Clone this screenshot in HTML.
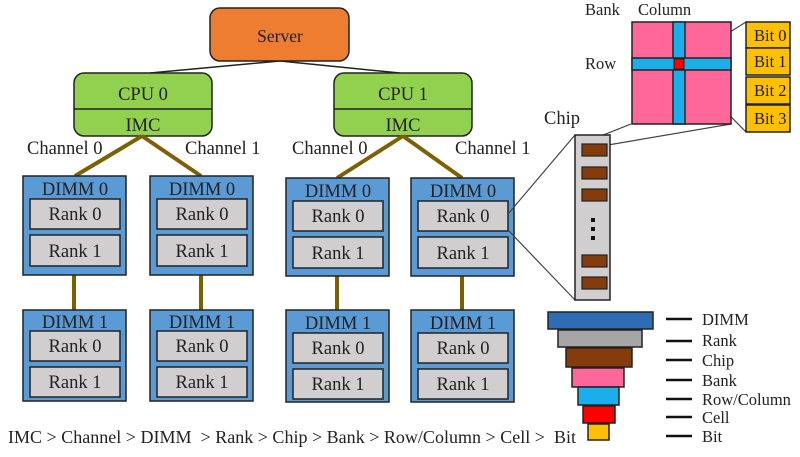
<!DOCTYPE html>
<html><head><style>body{margin:0;background:#fff}svg{display:block}text{font-family:"Liberation Serif",serif;fill:#222}</style></head><body>
<svg width="800" height="457" viewBox="0 0 800 457">
<g stroke="#222" stroke-width="1.5" fill="none">
<line x1="280" y1="61" x2="150" y2="73"/><line x1="280" y1="61" x2="400" y2="73"/>
</g>
<rect x="210" y="8" width="139" height="53" rx="10" fill="#ED7D31" stroke="#222" stroke-width="1.5"/>
<text x="280" y="42" font-size="17.5" text-anchor="middle">Server</text>
<g stroke="#222" stroke-width="1.5">
<rect x="74" y="73" width="138" height="63" rx="10" fill="#92D050"/><line x1="74" y1="109" x2="212" y2="109"/>
<rect x="334" y="73" width="138" height="63" rx="10" fill="#92D050"/><line x1="334" y1="109" x2="472" y2="109"/>
</g>
<g font-size="18.5" text-anchor="middle"><text x="143" y="100">CPU 0</text><text x="143" y="131">IMC</text><text x="403" y="100">CPU 1</text><text x="403" y="131">IMC</text></g>
<g stroke="#7F6000" stroke-width="4">
<line x1="142" y1="136" x2="75" y2="176"/><line x1="142" y1="136" x2="201" y2="176"/>
<line x1="403" y1="136" x2="337" y2="178"/><line x1="403" y1="136" x2="462" y2="178"/>
<line x1="74" y1="275" x2="74" y2="310"/><line x1="201" y1="275" x2="201" y2="310"/>
<line x1="337" y1="276" x2="337" y2="310"/><line x1="462" y1="276" x2="462" y2="310"/>
</g>
<g font-size="18.5"><text x="27" y="154">Channel 0</text><text x="185" y="154">Channel 1</text><text x="292" y="154">Channel 0</text><text x="455" y="154">Channel 1</text></g>
<g stroke="#222" stroke-width="1.5">
<rect x="23" y="176" width="103" height="99" fill="#5B9BD5"/><rect x="30" y="199" width="90" height="30" fill="#D0CECE"/><rect x="30" y="235" width="90" height="31" fill="#D0CECE"/>
<rect x="150" y="176" width="103" height="99" fill="#5B9BD5"/><rect x="157" y="199" width="90" height="30" fill="#D0CECE"/><rect x="157" y="235" width="90" height="31" fill="#D0CECE"/>
<rect x="286" y="178" width="103" height="98" fill="#5B9BD5"/><rect x="293" y="201" width="90" height="30" fill="#D0CECE"/><rect x="293" y="237" width="90" height="31" fill="#D0CECE"/>
<rect x="411" y="178" width="103" height="98" fill="#5B9BD5"/><rect x="418" y="201" width="90" height="30" fill="#D0CECE"/><rect x="418" y="237" width="90" height="31" fill="#D0CECE"/>
<rect x="23" y="310" width="103" height="91" fill="#5B9BD5"/><rect x="30" y="331" width="90" height="30" fill="#D0CECE"/><rect x="30" y="367" width="90" height="30" fill="#D0CECE"/>
<rect x="150" y="310" width="103" height="91" fill="#5B9BD5"/><rect x="157" y="331" width="90" height="30" fill="#D0CECE"/><rect x="157" y="367" width="90" height="30" fill="#D0CECE"/>
<rect x="286" y="310" width="103" height="92" fill="#5B9BD5"/><rect x="293" y="333" width="90" height="30" fill="#D0CECE"/><rect x="293" y="369" width="90" height="30" fill="#D0CECE"/>
<rect x="411" y="310" width="103" height="92" fill="#5B9BD5"/><rect x="418" y="333" width="90" height="30" fill="#D0CECE"/><rect x="418" y="369" width="90" height="30" fill="#D0CECE"/>
</g>
<g font-size="18.5" text-anchor="middle">
<text x="75" y="195">DIMM 0</text><text x="75" y="220">Rank 0</text><text x="75" y="257">Rank 1</text>
<text x="202" y="195">DIMM 0</text><text x="202" y="220">Rank 0</text><text x="202" y="257">Rank 1</text>
<text x="338" y="197">DIMM 0</text><text x="338" y="222">Rank 0</text><text x="338" y="259">Rank 1</text>
<text x="463" y="197">DIMM 0</text><text x="463" y="222">Rank 0</text><text x="463" y="259">Rank 1</text>
<text x="75" y="328">DIMM 1</text><text x="75" y="352">Rank 0</text><text x="75" y="388">Rank 1</text>
<text x="202" y="328">DIMM 1</text><text x="202" y="352">Rank 0</text><text x="202" y="388">Rank 1</text>
<text x="338" y="329">DIMM 1</text><text x="338" y="354">Rank 0</text><text x="338" y="390">Rank 1</text>
<text x="463" y="329">DIMM 1</text><text x="463" y="354">Rank 0</text><text x="463" y="390">Rank 1</text>
</g>
<text x="8" y="443" font-size="18" textLength="568" lengthAdjust="spacing">IMC &gt; Channel &gt; DIMM &#160;&gt; Rank &gt; Chip &gt; Bank &gt; Row/Column &gt; Cell &gt; &#160;Bit</text>
<g stroke="#444" stroke-width="1.2">
<line x1="508" y1="214" x2="575" y2="135"/><line x1="508" y1="230" x2="575" y2="300"/>
<line x1="578" y1="145" x2="631" y2="124"/><line x1="608" y1="145" x2="731" y2="124"/>
<line x1="685" y1="60" x2="746" y2="22"/><line x1="685" y1="70" x2="746" y2="132"/>
</g>
<rect x="575" y="135" width="35" height="165" fill="#D0CECE" stroke="#222" stroke-width="1.5"/>
<g fill="#843C0C" stroke="#222" stroke-width="1.2">
<rect x="582" y="144" width="25" height="12"/><rect x="582" y="167" width="25" height="12"/><rect x="582" y="189" width="25" height="12"/><rect x="582" y="255" width="25" height="12"/><rect x="582" y="277" width="25" height="12"/>
</g>
<g fill="#111"><rect x="591" y="218" width="4" height="4"/><rect x="591" y="227" width="4" height="4"/><rect x="591" y="236" width="4" height="4"/></g>
<g stroke="#222" stroke-width="1.5">
<rect x="632" y="22" width="99" height="102" fill="#FF6699"/>
<rect x="673" y="22" width="12" height="102" fill="#1AAEEA"/><rect x="632" y="58" width="99" height="12" fill="#1AAEEA"/>
<rect x="674" y="59" width="10" height="10" fill="#FF0000" stroke-width="1"/>
<rect x="746" y="22" width="44" height="26" fill="#FFC000"/><rect x="746" y="48" width="44" height="27" fill="#FFC000"/><rect x="746" y="77" width="44" height="27" fill="#FFC000"/><rect x="746" y="105" width="44" height="27" fill="#FFC000"/>
</g>
<g font-size="16.5"><text x="585" y="15">Bank</text><text x="638" y="15">Column</text><text x="585" y="69">Row</text><text x="544" y="124" font-size="18.5">Chip</text>
<text x="754" y="41">Bit 0</text><text x="754" y="67">Bit 1</text><text x="754" y="96">Bit 2</text><text x="754" y="124">Bit 3</text></g>
<g stroke="#222" stroke-width="1.5">
<rect x="548" y="312" width="105" height="17" fill="#2E6DB4"/><rect x="558" y="330" width="84" height="17" fill="#A6A6A6"/><rect x="566" y="348" width="66" height="19" fill="#843C0C"/><rect x="572" y="368" width="52" height="19" fill="#FF6699"/><rect x="578" y="387" width="41" height="18" fill="#1AAEEA"/><rect x="583" y="406" width="32" height="17" fill="#FF0000"/><rect x="588" y="424" width="21" height="16" fill="#FFC000"/>
</g>
<g stroke="#111" stroke-width="2.5"><line x1="666" y1="319" x2="692" y2="319"/><line x1="666" y1="341" x2="692" y2="341"/><line x1="666" y1="360" x2="692" y2="360"/><line x1="666" y1="380" x2="692" y2="380"/><line x1="666" y1="399" x2="692" y2="399"/><line x1="666" y1="417" x2="692" y2="417"/><line x1="666" y1="436" x2="692" y2="436"/></g>
<g font-size="16.5"><text x="702" y="325">DIMM</text><text x="702" y="346">Rank</text><text x="702" y="366">Chip</text><text x="702" y="386">Bank</text><text x="702" y="405">Row/Column</text><text x="702" y="423">Cell</text><text x="702" y="442">Bit</text></g>
</svg>
</body></html>
